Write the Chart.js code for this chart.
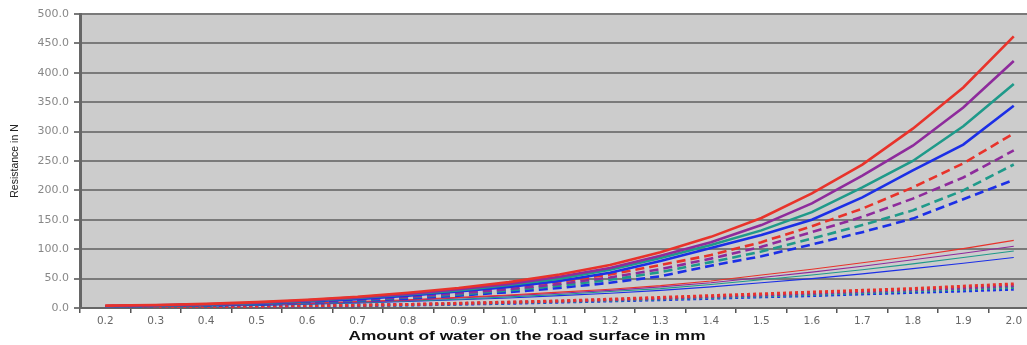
<!DOCTYPE html>
<html>
<head>
<meta charset="utf-8">
<script src="https://cdn.jsdelivr.net/npm/chart.js@4.4.1/dist/chart.umd.min.js"></script>
<style>
  html, body { margin:0; padding:0; background:#fff; overflow:hidden; }
  #wrap { position:relative; width:1040px; height:345px; }
</style>
</head>
<body>
<div id="wrap"><canvas id="chart"></canvas></div>
<script>
// x categories (mm of water)
const waterMm = ['0.2','0.3','0.4','0.5','0.6','0.7','0.8','0.9','1.0','1.1','1.2','1.3','1.4','1.5','1.6','1.7','1.8','1.9','2.0'];

// thick solid lines
const solidRed    = [4,5,7,10,14,19,26,34,44,57,73,95,121,153,195,244,305,375,462];
const solidPurple = [3.5,4.5,6.5,9,13,18,24,32,41,53,68,89,112,141,178,225,276,341,420];
const solidTeal   = [3,4,6,8,12,17,23,30,39,50,65,85,107,132,163,205,250,309,381];
const solidBlue   = [3,4,5.5,7.5,11,15,21,28,36,46,60,80,102,124,150,188,234,278,344];

// thick dashed lines
const dashRed    = [3,4,6,8,11,16,21,28,36,45,57,73,90,112,139,169,205,246,297];
const dashPurple = [3,4,5.5,7.5,10,14,19,25,32,41,52,66,84,104,129,155,186,222,268];
const dashTeal   = [2.5,3.5,5,7,9.5,13,18,23,30,38,48,61,78,96,118,141,166,200,244];
const dashBlue   = [2.5,3.5,4.5,6.5,9,12,16,21,27,34,43,54,72,88,108,129,152,185,218];

// thin solid lines
const thinRed    = [2,3,4,6,8,11,14,18,22,27,32,38,46,56,66,77,88,101,115];
const thinPurple = [2,3,4,5.5,7.5,10,13,17,21,25,30,36,43,52,61,71,82,93,105];
const thinTeal   = [2,2.5,3.5,5,7,9,12,15,19,23,28,33,40,48,56,65,75,86,97];
const thinBlue   = [1.5,2.5,3.5,4.5,6.5,8.5,11,14,17,21,25,30,36,43,50,58,67,76,86];

// dotted lines
const dotRed    = [1,1.5,2,3,4,5,6,8,10,12,15,18,21,24,27,30,33,37,41];
const dotPurple = [1,1.5,2,2.5,3.5,4.5,6,7.5,9.5,11.5,14,16.5,19.5,22,25,28,31,34,38];
const dotTeal   = [1,1.5,2,2.5,3.5,4.5,5.5,7,9,11,13,15.5,18,20.5,23,26,29,32,35];
const dotBlue   = [1,1.5,1.5,2,3,4,5,6.5,8,10,12,14,16.5,19,21,24,26.5,29,32];

const yTicks = [0,50,100,150,200,250,300,350,400,450,500];

const RED = '#e8332b', PURPLE = '#8e2b9c', TEAL = '#1f9a8a', BLUE = '#1c2fe6';

function line(label, data, color, kind, order){
  const ds = { label, data, borderColor: color, backgroundColor: color, pointRadius: 0, tension: 0, fill: false, order };
  if (kind === 'solid') ds.borderWidth = 2.6;
  if (kind === 'dash') { ds.borderWidth = 2.6; ds.borderDash = [9, 5]; }
  if (kind === 'thin') ds.borderWidth = 1.1;
  if (kind === 'dot') { ds.borderWidth = 3; ds.borderDash = [3, 3]; }
  return ds;
}

const datasets = [
  line('solid red', solidRed, RED, 'solid', 1),
  line('solid purple', solidPurple, PURPLE, 'solid', 2),
  line('solid teal', solidTeal, TEAL, 'solid', 3),
  line('solid blue', solidBlue, BLUE, 'solid', 4),
  line('dash red', dashRed, RED, 'dash', 5),
  line('dash purple', dashPurple, PURPLE, 'dash', 6),
  line('dash teal', dashTeal, TEAL, 'dash', 7),
  line('dash blue', dashBlue, BLUE, 'dash', 8),
  line('thin red', thinRed, RED, 'thin', 9),
  line('thin purple', thinPurple, PURPLE, 'thin', 10),
  line('thin teal', thinTeal, TEAL, 'thin', 11),
  line('thin blue', thinBlue, BLUE, 'thin', 12),
  line('dot red', dotRed, RED, 'dot', 13),
  line('dot purple', dotPurple, PURPLE, 'dot', 14),
  line('dot teal', dotTeal, TEAL, 'dot', 15),
  line('dot blue', dotBlue, BLUE, 'dot', 16)
];

// grey plot background
const plotBg = {
  id: 'plotBg',
  beforeDraw(chart){
    const {ctx, chartArea:a} = chart;
    ctx.save();
    ctx.fillStyle = '#cccccc';
    ctx.fillRect(a.left, a.top, a.right - a.left, a.bottom - a.top);
    ctx.restore();
  }
};

// x axis title, stretched and placed like the original (not centred on the plot)
const xTitle = {
  id: 'xTitle',
  afterDraw(chart){
    const ctx = chart.ctx;
    const text = 'Amount of water on the road surface in mm';
    ctx.save();
    ctx.font = 'bold 12px "Liberation Sans", Arial, sans-serif';
    ctx.fillStyle = '#111';
    ctx.textAlign = 'center';
    ctx.textBaseline = 'middle';
    const w = ctx.measureText(text).width;
    ctx.translate(527, 337);
    ctx.scale(357 / w, 1);
    ctx.fillText(text, 0, 0);
    ctx.restore();
  }
};

new Chart(document.getElementById('chart'), {
  type: 'line',
  data: { labels: waterMm, datasets },
  options: {
    responsive: true,
    maintainAspectRatio: false,
    animation: false,
    layout: { padding: { top: 14, right: 1, bottom: 0, left: 0 } },
    plugins: { legend: { display: false }, tooltip: { enabled: false } },
    scales: {
      x: {
        offset: true,
        grid: { display: true, drawOnChartArea: false, drawTicks: true, tickLength: 5, offset: true, color: '#555', lineWidth: 1.5 },
        border: { display: true, color: '#666', width: 2 },
        ticks: { color: '#666', font: { family: '"DejaVu Sans", sans-serif', size: 10.5 }, padding: 2, maxRotation: 0, autoSkip: false },
        afterFit(s){ s.height = 37; }
      },
      y: {
        min: 0, max: 500,
        afterBuildTicks(s){ s.ticks = yTicks.map(v => ({ value: v })); },
        grid: { color: '#7a7a7a', lineWidth: 2, tickLength: 6, drawTicks: true },
        border: { display: true, color: '#666', width: 3 },
        ticks: { color: '#888', font: { family: '"DejaVu Sans", sans-serif', size: 11 }, padding: 5, callback: v => v.toFixed(1) },
        title: { display: true, text: 'Resistance in N', color: '#222', padding: { top: 9, bottom: 0 }, font: { family: '"Liberation Sans", Arial, sans-serif', size: 10.5 } },
        afterFit(s){ s.width = 80; }
      }
    }
  },
  plugins: [plotBg, xTitle]
});
</script>
</body>
</html>
